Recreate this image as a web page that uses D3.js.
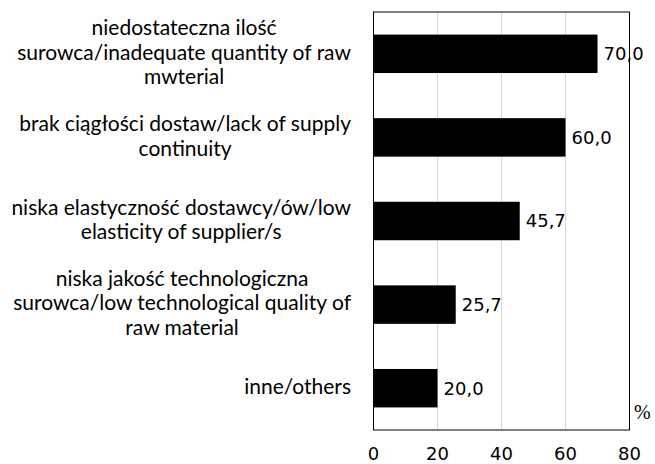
<!DOCTYPE html>
<html>
<head>
<meta charset="utf-8">
<script src="https://cdn.jsdelivr.net/npm/d3@7"></script>
<style>
  body { margin: 0; background: #fff; }
</style>
</head>
<body>
<div id="chart"></div>
<script>
// data
const categories = [
  ["niedostateczna ilość", "surowca/inadequate quantity of raw", "mwterial"],
  ["brak ciągłości dostaw/lack of supply", "continuity"],
  ["niska elastyczność dostawcy/ów/low", "elasticity of supplier/s"],
  ["niska jakość technologiczna", "surowca/low technological quality of", "raw material"],
  ["inne/others"]
];
const values = [70.0, 60.0, 45.7, 25.7, 20.0];
const ticks = [0, 20, 40, 60, 80];

const width = 655;
const height = 464;
const margin = { top: 12, right: 25.5, bottom: 34, left: 373.5 };

const svg = d3.select("#chart")
  .append("svg")
  .attr("width", width)
  .attr("height", height);

const x = d3.scaleLinear()
  .domain([0, 80])
  .range([margin.left, width - margin.right]);

const y = d3.scaleBand()
  .domain(d3.range(values.length))
  .range([margin.top, height - margin.bottom])
  .paddingInner(0.54)
  .paddingOuter(0.27);

// gridlines
svg.append("g")
  .selectAll("line")
  .data(ticks.slice(1, -1))
  .join("line")
  .attr("x1", d => x(d))
  .attr("x2", d => x(d))
  .attr("y1", margin.top)
  .attr("y2", height - margin.bottom)
  .attr("stroke", "#d9d9d9")
  .attr("stroke-width", 1);

// bars
svg.append("g")
  .selectAll("rect")
  .data(values)
  .join("rect")
  .attr("x", x(0))
  .attr("y", (d, i) => y(i))
  .attr("width", d => x(d) - x(0))
  .attr("height", y.bandwidth())
  .attr("fill", "#000");

// plot border
svg.append("rect")
  .attr("x", margin.left)
  .attr("y", margin.top)
  .attr("width", x(80) - x(0))
  .attr("height", height - margin.bottom - margin.top)
  .attr("fill", "none")
  .attr("stroke", "#000")
  .attr("stroke-width", 1);

// value labels
svg.append("g")
  .selectAll("text")
  .data(values)
  .join("text")
  .attr("x", d => x(d) + 6)
  .attr("y", (d, i) => y(i) + y.bandwidth() / 2)
  .attr("dy", "0.36em")
  .attr("font-family", "DejaVu Sans")
  .attr("font-size", "18px")
  .attr("fill", "#000")
  .text(d => d3.format(".1f")(d).replace(".", ","));

// x axis tick labels
svg.append("g")
  .selectAll("text")
  .data(ticks)
  .join("text")
  .attr("x", d => x(d))
  .attr("y", 460)
  .attr("text-anchor", "middle")
  .attr("font-family", "DejaVu Sans")
  .attr("font-size", "18px")
  .attr("fill", "#000")
  .text(d => d);

// unit
svg.append("text")
  .attr("x", 634)
  .attr("y", 419)
  .attr("font-family", "Liberation Serif")
  .attr("font-size", "20px")
  .attr("fill", "#000")
  .text("%");

// category labels: block right-aligned at axis, lines centered in block
const lineH = 24.5;
const labelRight = 351;
categories.forEach((lines, i) => {
  const g = svg.append("g");
  const cy = y(i) + y.bandwidth() / 2 - 1.5;
  const texts = lines.map((t, j) => g.append("text")
    .attr("y", cy + (j - (lines.length - 1) / 2) * lineH)
    .attr("dy", "0.35em")
    .attr("font-family", "Lato")
    .attr("font-size", "21px")
    .attr("fill", "#000")
    .attr("text-anchor", "middle")
    .text(t));
  const w = d3.max(texts, t => t.node().getComputedTextLength());
  texts.forEach(t => t.attr("x", labelRight - w / 2));
});
</script>
</body>
</html>
